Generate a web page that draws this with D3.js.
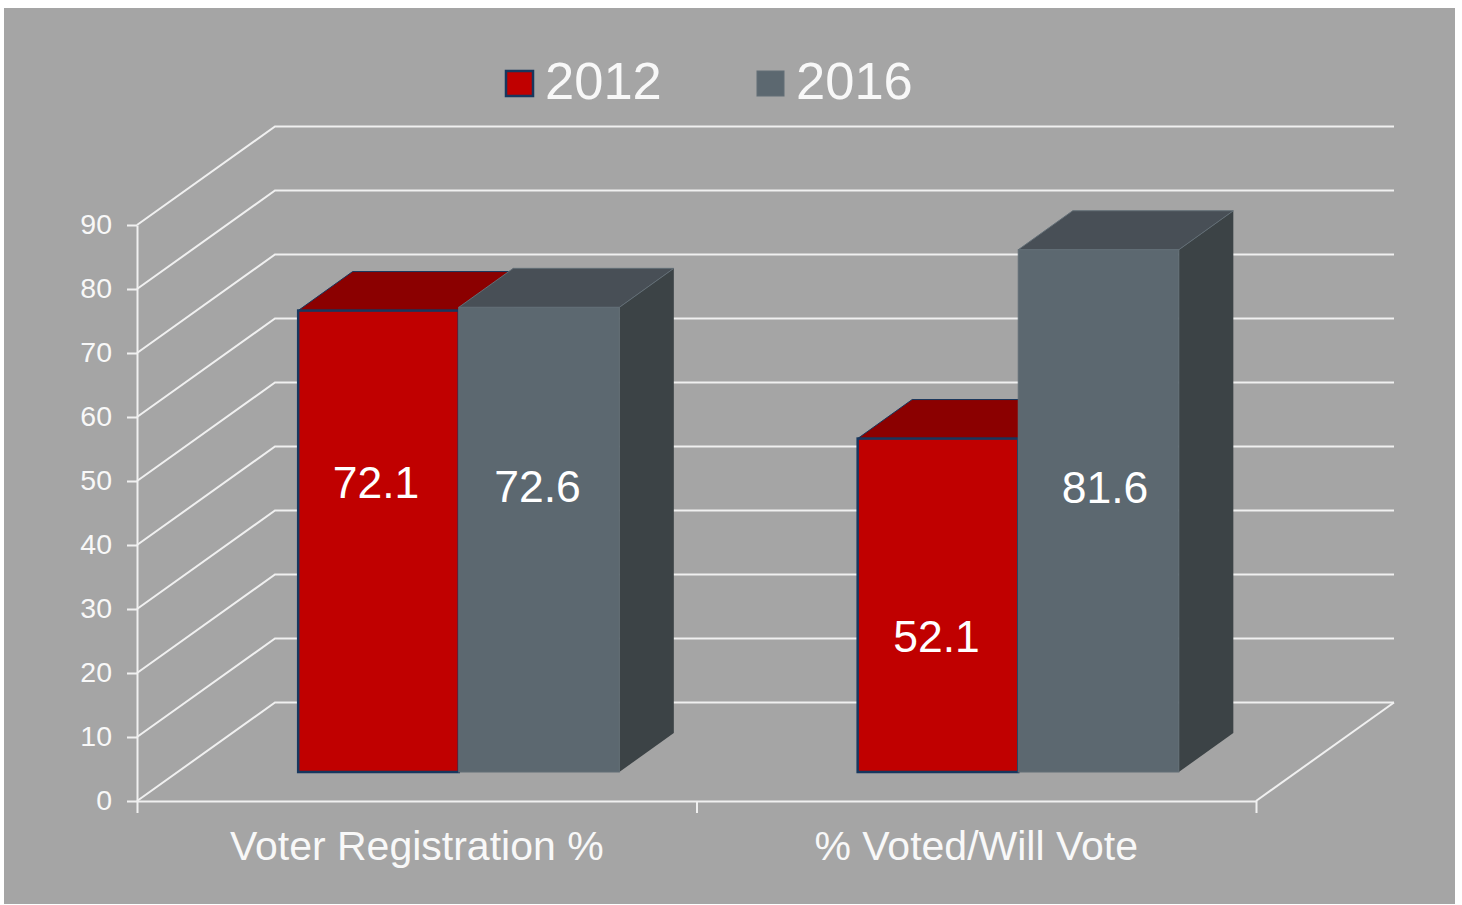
<!DOCTYPE html>
<html>
<head>
<meta charset="utf-8">
<script src="https://cdn.jsdelivr.net/npm/d3@7/dist/d3.min.js"></script>
<style>
  html, body { margin: 0; padding: 0; background: #fff; }
  svg { display: block; }
  text { font-family: "Liberation Sans", Arial, sans-serif; }
</style>
</head>
<body>
<div id="chart"></div>
<script>
///////////////////////////////// Data /////////////////////////////////
var categories = ["Voter Registration %", "% Voted/Will Vote"];
var years = ["2012", "2016"];
var values2012 = [72.1, 52.1];
var values2016 = [72.6, 81.6];
var yTicks = [0, 10, 20, 30, 40, 50, 60, 70, 80, 90];

///////////////////////////////// Layout ///////////////////////////////
var totalWidth = 1462, totalHeight = 905;
var wallDepth = {x: 138, y: -98.5};  // front axis plane -> back wall
var barInset = {x: 42, y: -29};      // front axis plane -> front of the bars
var barDepth = {x: 54.5, y: -39};    // front of a bar -> back of a bar
var lineColor = "#f0f0f0";
var textColor = "#f8f8f8";
var colors = {
  "2012": {front: "#c00000", top: "#8b0000", side: "#8b0000", stroke: "#17375e", strokeWidth: 2.5},
  "2016": {front: "#5c6870", top: "#484f56", side: "#3c4346", stroke: "#626e76", strokeWidth: 1}
};
// the labels sit where they were dragged in the original, not at the bar centre
var labelNudge = {
  "2012": [{x: -2.5, y: -59}, {x: -1.5, y: 31}],
  "2016": [{x: -1.5, y: -53.5}, {x: 6.5, y: -23.5}]
};

var svg = d3.select("#chart").append("svg")
  .attr("width", totalWidth)
  .attr("height", totalHeight);

svg.append("rect")
  .attr("x", 4).attr("y", 8)
  .attr("width", 1451).attr("height", 896)
  .attr("fill", "#a5a5a5");

///////////////////////////////// Scales ///////////////////////////////
var yScale = d3.scaleLinear().domain([0, 90]).range([801, 225]);

var xScale = d3.scaleBand()
  .domain(categories)
  .range([137, 1256])
  .paddingInner(0.426)
  .paddingOuter(0.213);

var xSeries = d3.scaleBand()
  .domain(years)
  .range([0, xScale.bandwidth()]);

// the band scale is only used for bar positions, the axis ticks sit between categories
var xBoundary = d3.scalePoint()
  .domain(d3.range(categories.length + 1))
  .range(xScale.range());

///////////////////////////////// Walls ////////////////////////////////
var xStart = xScale.range()[0], xEnd = xScale.range()[1];
var walls = svg.append("g")
  .attr("fill", "none")
  .attr("stroke", lineColor)
  .attr("stroke-width", 2);

walls.selectAll(".grid")
  .data(yTicks)
  .join("polyline")
  .attr("class", "grid")
  .attr("points", function(d) {
    var y = yScale(d);
    return [[xStart, y], [xStart + wallDepth.x, y + wallDepth.y], [xEnd + wallDepth.x, y + wallDepth.y]].join(" ");
  });

walls.append("line")
  .attr("x1", xEnd).attr("y1", yScale(0))
  .attr("x2", xEnd + wallDepth.x).attr("y2", yScale(0) + wallDepth.y);

///////////////////////////////// Axes /////////////////////////////////
var yAxis = svg.append("g")
  .attr("transform", "translate(" + xStart + ",0)")
  .call(d3.axisLeft(yScale).tickValues(yTicks).tickSize(10).tickSizeOuter(0).tickPadding(15));

var xAxis = svg.append("g")
  .attr("transform", "translate(0," + yScale(0) + ")")
  .call(d3.axisBottom(xBoundary).tickSize(12).tickSizeOuter(0).tickFormat(""));

[yAxis, xAxis].forEach(function(axis) {
  axis.selectAll("path, line").attr("stroke", lineColor).attr("stroke-width", 2);
});
yAxis.selectAll("text").attr("fill", textColor).attr("dy", "0.29em").style("font-size", "28.5px")
  .style("font-family", '"Liberation Sans", Arial, sans-serif');

svg.selectAll(".cat")
  .data(categories)
  .join("text")
  .attr("class", "cat")
  .attr("x", function(d) { return xScale(d) + xScale.bandwidth() / 2; })
  .attr("y", 860)
  .attr("text-anchor", "middle")
  .attr("font-size", 41)
  .attr("fill", textColor)
  .text(function(d) { return d; });

///////////////////////////////// Bars /////////////////////////////////
var barData = [];
years.forEach(function(year, s) {
  var vals = s === 0 ? values2012 : values2016;
  categories.forEach(function(cat, i) {
    barData.push({year: year, category: cat, value: vals[i], index: i});
  });
});

function poly(points) { return points.join(" "); }

var bars = svg.selectAll(".bar")
  .data(barData)
  .join("g")
  .attr("class", "bar")
  .each(function(d) {
    var c = colors[d.year];
    var x0 = xScale(d.category) + xSeries(d.year) + barInset.x;
    var x1 = x0 + xSeries.bandwidth();
    var y0 = yScale(0) + barInset.y;
    var y1 = yScale(d.value) + barInset.y;
    var g = d3.select(this);

    g.append("polygon")
      .attr("points", poly([[x1, y1], [x1 + barDepth.x, y1 + barDepth.y], [x1 + barDepth.x, y0 + barDepth.y], [x1, y0]]))
      .attr("fill", c.side);
    g.append("polygon")
      .attr("points", poly([[x0, y1], [x0 + barDepth.x, y1 + barDepth.y], [x1 + barDepth.x, y1 + barDepth.y], [x1, y1]]))
      .attr("fill", c.top)
      .attr("stroke", c.stroke)
      .attr("stroke-width", 1);
    g.append("rect")
      .attr("x", x0).attr("y", y1)
      .attr("width", x1 - x0).attr("height", y0 - y1)
      .attr("fill", c.front)
      .attr("stroke", c.stroke)
      .attr("stroke-width", c.strokeWidth);
  });

// second pass so a later bar never covers a label
svg.selectAll(".value")
  .data(barData)
  .join("text")
  .attr("class", "value")
  .attr("x", function(d) {
    return xScale(d.category) + xSeries(d.year) + barInset.x + xSeries.bandwidth() / 2 + labelNudge[d.year][d.index].x;
  })
  .attr("y", function(d) {
    return (yScale(d.value) + yScale(0)) / 2 + barInset.y + labelNudge[d.year][d.index].y;
  })
  .attr("dy", "0.35em")
  .attr("text-anchor", "middle")
  .attr("font-size", 44.5)
  .attr("fill", "#fff")
  .text(function(d) { return d3.format(".1f")(d.value); });

///////////////////////////////// Legend ///////////////////////////////
var legendX = d3.scaleOrdinal().domain(years).range([506, 757]);

var legend = svg.selectAll(".legend")
  .data(years)
  .join("g")
  .attr("class", "legend")
  .attr("transform", function(d) { return "translate(" + legendX(d) + ",71)"; });

legend.append("rect")
  .attr("width", 27).attr("height", 25)
  .attr("fill", function(d) { return colors[d].front; })
  .attr("stroke", function(d) { return colors[d].stroke; })
  .attr("stroke-width", function(d) { return colors[d].strokeWidth; });

legend.append("text")
  .attr("x", 39)
  .attr("y", 28)
  .attr("font-size", 52.5)
  .attr("fill", textColor)
  .text(function(d) { return d; });
</script>
</body>
</html>
